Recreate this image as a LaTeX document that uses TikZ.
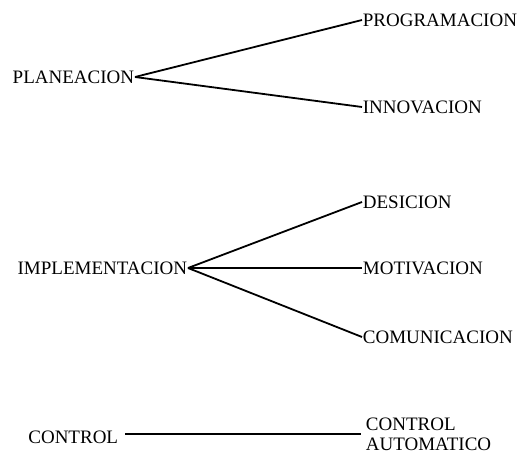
\documentclass[tikz,border=0pt]{standalone}
\usepackage{fontspec}
\setmainfont{Liberation Serif}
\usetikzlibrary{positioning}

\begin{document}
\begin{tikzpicture}[x=1pt,y=1pt,line width=1.8pt,
		lbl/.style={inner sep=0pt,font=\fontsize{19}{20}\selectfont},
		izq/.style={lbl,anchor=east},
		der/.style={lbl,anchor=west}]
		\useasboundingbox (0,0) rectangle (531,456);
		% etapas
		\node[izq] (plan) at (135,379) {PLANEACION};
		\node[izq] (impl) at (188,188) {IMPLEMENTACION};
		\node[izq] (ctrl) at (119,19) {CONTROL};
		% ramas
		\node[der] (prog) at (362,436) {PROGRAMACION};
		\node[der] (inno) at (362,349) {INNOVACION};
		\node[der] (desi) at (362,254) {DESICION};
		\node[der] (moti) at (362,188) {MOTIVACION};
		\node[der] (comu) at (362,119) {COMUNICACION};
		\node[der,inner xsep=4pt,align=left] (auto) at (361,22) {CONTROL\\AUTOMATICO};
		\draw (plan.east) -- (prog.west);
		\draw (plan.east) -- (inno.west);
		\draw (impl.east) -- (desi.west);
		\draw (impl.east) -- (moti.west);
		\draw (impl.east) -- (comu.west);
		\draw ([xshift=6pt]ctrl.east |- auto.west) -- (auto.west);
		\end{tikzpicture}
\end{document}
